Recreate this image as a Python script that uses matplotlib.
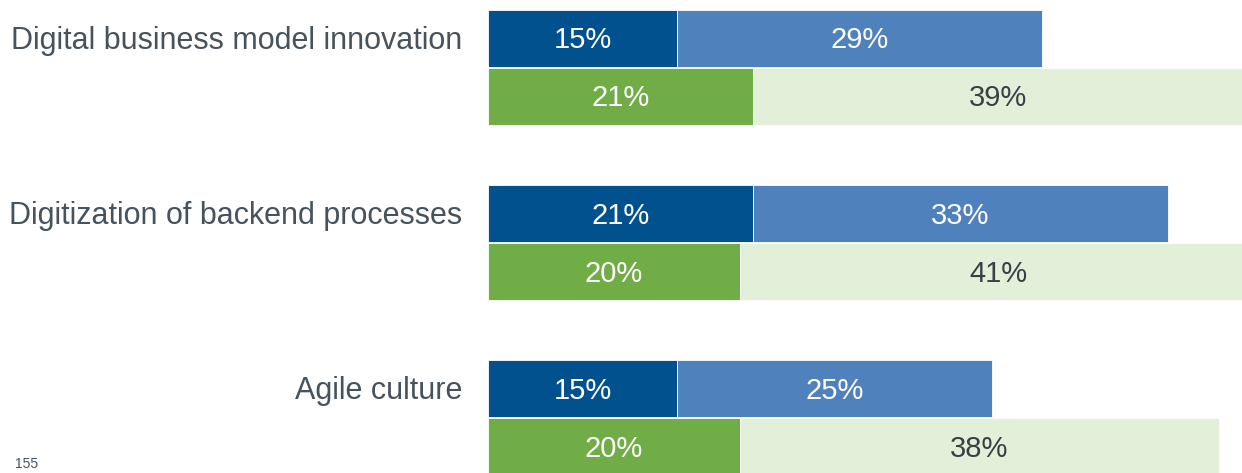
import matplotlib.pyplot as plt
import numpy as np

plt.rcParams['font.family'] = ['Liberation Sans', 'DejaVu Sans']

categories = ['Digital business model innovation', 'Digitization of backend processes', 'Agile culture']
blue_dark = [15, 21, 15]
blue_light = [29, 33, 25]
green_dark = [21, 20, 20]
green_light = [39, 41, 38]

c_blue_dark = '#00518E'
c_blue_light = '#4F81BD'
c_green_dark = '#70AD47'
c_green_light = '#E2F0DA'
txt_col = '#46525C'

fig = plt.figure(figsize=(12.42, 4.73), dpi=100)
ax = fig.add_axes([488 / 1242, 0, 1 - 488 / 1242, 1])

idx = np.arange(len(categories))
h = 57 / 175
y_top = idx + 38.5 / 175
y_bot = idx + 96.5 / 175

ax.barh(y_top, blue_dark, height=h, color=c_blue_dark, edgecolor='white', linewidth=0.6)
ax.barh(y_top, blue_light, left=blue_dark, height=h, color=c_blue_light, edgecolor='white', linewidth=0.6)
ax.barh(y_bot, green_dark, height=h, color=c_green_dark, edgecolor='white', linewidth=0.6)
ax.barh(y_bot, green_light, left=green_dark, height=h, color=c_green_light, edgecolor='white', linewidth=0.6)

fs = 21
dy = 2 / 175
for i in idx:
    ax.text(blue_dark[i] / 2, y_top[i] + dy, f'{blue_dark[i]}%', ha='center', va='center', color='white', fontsize=fs)
    ax.text(blue_dark[i] + blue_light[i] / 2, y_top[i] + dy, f'{blue_light[i]}%', ha='center', va='center', color='white', fontsize=fs)
    ax.text(green_dark[i] / 2, y_bot[i] + dy, f'{green_dark[i]}%', ha='center', va='center', color='white', fontsize=fs)
    ax.text(green_dark[i] + green_light[i] / 2, y_bot[i] + dy, f'{green_light[i]}%', ha='center', va='center', color='#3A3F44', fontsize=fs)
    ax.text(-26 / 12.6, y_top[i] + dy, categories[i], ha='right', va='center', color=txt_col, fontsize=22)

ax.set_xlim(0, (1242 - 488) / 12.6)
ax.set_ylim(473 / 175, 0)
ax.axis('off')

fig.text(0.012, 0.004, '155', ha='left', va='bottom', color=txt_col, fontsize=10)

fig.savefig('out.png', dpi=100)
